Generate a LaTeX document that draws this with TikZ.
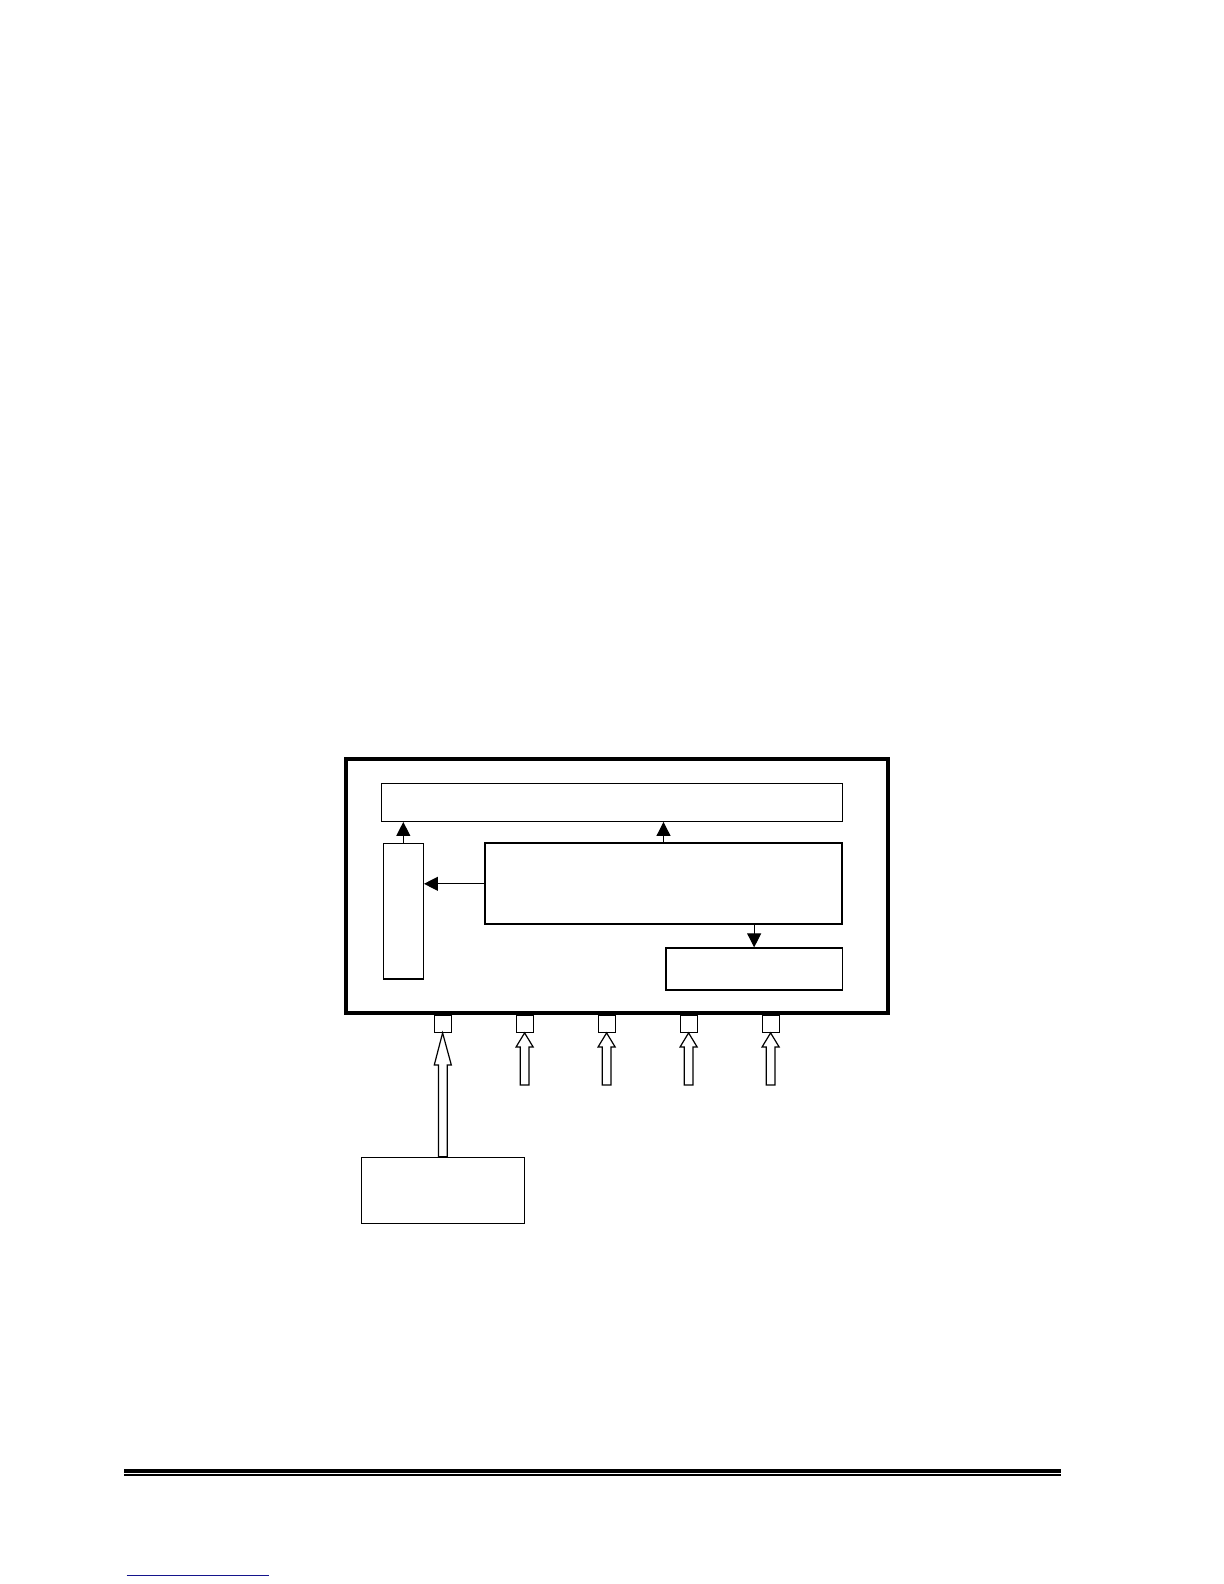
\documentclass[tikz,border=0pt]{standalone}
\usepackage{xcolor}
\definecolor{linkblue}{rgb}{0.08,0.08,0.55}
\usepackage{tikz}
\usetikzlibrary{arrows.meta, positioning, calc}
\tikzset{
Box/.style={
	draw, rectangle,
	line width=0.65pt,
	inner sep=0pt
},
MainBox/.style={
	Box,
	line width=1pt
},
Casing/.style={
	Box,
	line width=2pt
},
Port/.style={
	Box,
	line width=0.6pt,
	minimum width=8.5pt,
	minimum height=8.5pt
},
Flow/.style={
	draw=black,
	line width=0.55pt,
	-{Triangle[length=7pt, width=7pt]}
},
FatArrow/.style={
	draw=black,
	line width=0.6pt,
	to path={
		let \p1=(\tikztostart), \p2=(\tikztotarget) in
		(\x1-2.2pt,\y1) -- (\x1-2.2pt,\y2-#1) -- (\x1-4.25pt,\y2-#1) -- (\x2,\y2)
		-- (\x1+4.25pt,\y2-#1) -- (\x1+2.2pt,\y2-#1) -- (\x1+2.2pt,\y1) -- cycle
	}
}
}

\begin{document}
\begin{tikzpicture}[x=0.5pt, y=-0.5pt]
	\useasboundingbox (0,0) rectangle (1224,1584);

	\node[Casing, minimum width=271.1pt, minimum height=126.85pt] (casing) at (616.6,885.85) {};
	\node[Box, minimum width=230.5pt, minimum height=19pt] (topbar) at (611.8,802.3) {};
	\node[Box, minimum width=20pt, minimum height=67.85pt] (buffer) at (403.3,911.2) {};
	\node[MainBox, minimum width=178.8pt, minimum height=40.5pt] (core) at (663.5,883.8) {};
	\node[Box, minimum width=88.15pt, minimum height=21pt] (lowbox) at (754.15,969) {};

	\draw[Flow] (buffer.north) -- (buffer.north |- topbar.south);
	\draw[Flow] (core.north) -- (core.north |- topbar.south);
	\draw[Flow] (core.west) -- (buffer.east |- core.west);
	\draw[Flow] (core.south -| lowbox.north) -- (lowbox.north);

	\node[Port, anchor=north, xshift=-87pt] (p1) at (casing.south) {};
	\node[Port, right=31.9pt of p1] (p2) {};
	\node[Port, right=31.9pt of p2] (p3) {};
	\node[Port, right=31.9pt of p3] (p4) {};
	\node[Port, right=31.9pt of p4] (p5) {};

	\coordinate (t2) at ([yshift=-26pt]p2.south);
	\coordinate (t3) at ([yshift=-26pt]p3.south);
	\coordinate (t4) at ([yshift=-26pt]p4.south);
	\coordinate (t5) at ([yshift=-26pt]p5.south);

	\node[Box, minimum width=81.5pt, minimum height=33pt] (src) at (442.8,1190.3) {};

	\draw[FatArrow=16pt] (src.north) to (p1.south);
	\draw[FatArrow=7pt] (t2) to (p2.south);
	\draw[FatArrow=7pt] (t3) to (p3.south);
	\draw[FatArrow=7pt] (t4) to (p4.south);
	\draw[FatArrow=7pt] (t5) to (p5.south);

	% page rule and link line
	\draw[line width=2pt] (124,1471) -- (1061,1471);
	\draw[line width=0.85pt] (124,1474.8) -- (1061,1474.8);
	\draw[linkblue, line width=0.6pt] (126.7,1575.3) -- (269,1575.3);
\end{tikzpicture}
\end{document}
